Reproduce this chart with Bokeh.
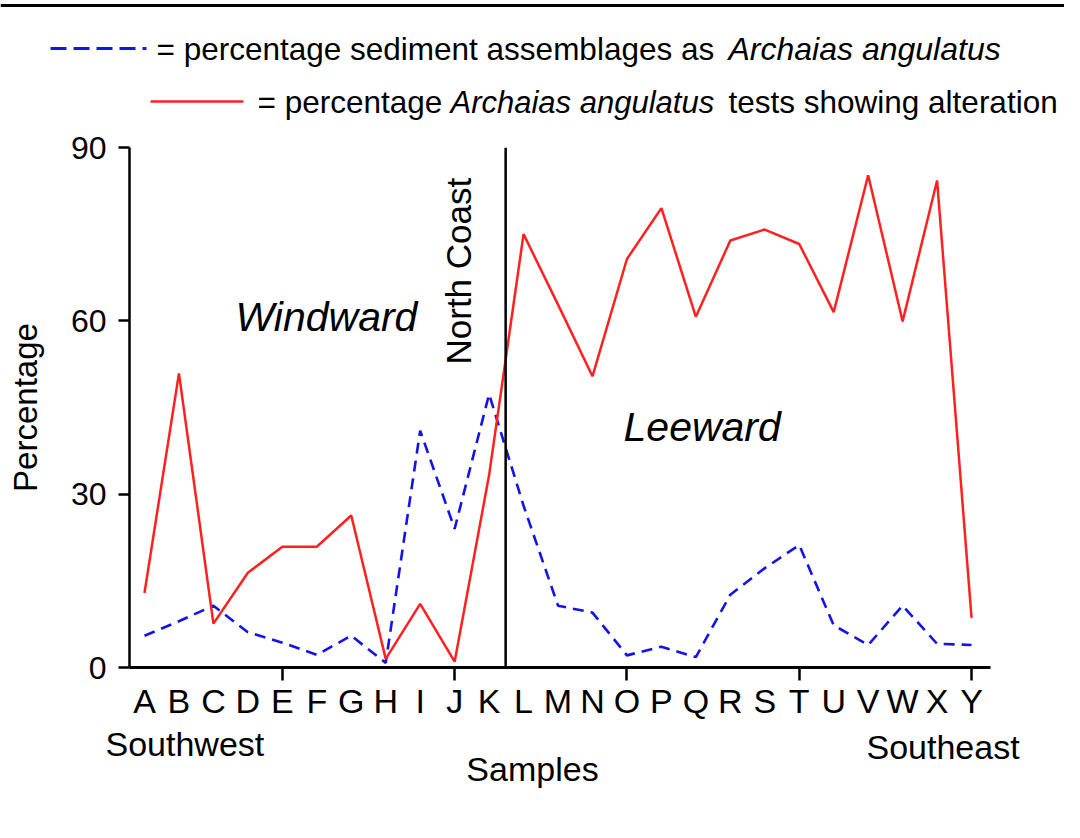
import math
from bokeh.plotting import figure
from bokeh.layouts import column
from bokeh.models import Range1d, LinearAxis, FixedTicker, Label, Span
from bokeh.embed import file_html
from bokeh.resources import INLINE

# ---------------- data ----------------
samples = list("ABCDEFGHIJKLMNOPQRSTUVWXY")
sediment_pct = [5.5, 8.0, 10.7, 6.1, 4.3, 2.2, 5.5, 0.8, 41.0, 24.0, 47.3, 28.0, 10.7,
                9.5, 2.1, 3.6, 1.8, 12.6, 17.2, 21.2, 7.3, 3.9, 10.7, 4.1, 3.9]
altered_pct = [12.9, 50.9, 7.6, 16.4, 20.9, 20.9, 26.3, 1.5, 11.0, 1.0, 33.3, 75.0, 62.8,
               50.4, 70.7, 79.5, 60.7, 73.9, 75.8, 73.3, 61.5, 85.2, 59.9, 84.3, 8.6]
y_ticks = [0, 30, 60, 90]
major_samples = ["E", "J", "O", "T", "Y"]
north_coast_after = "K"   # divider lies between K and L

x_idx = list(range(len(samples)))

FONT = "Liberation Sans"
W = 1064
BLUE = "#1414e6"
RED = "#ff2020"
BASE_FIX = 0.37   # empirical baseline correction (fraction of font size)


def strip(height, y_top):
    f = figure(width=W, height=height, x_range=Range1d(0, W),
               y_range=Range1d(y_top + height, y_top),
               output_backend="svg", toolbar_location=None,
               x_axis_location=None, y_axis_location=None,
               min_border=0, min_border_left=0, min_border_right=0,
               min_border_top=0, min_border_bottom=0, frame_align=False)
    for g in f.grid:
        g.visible = False
    f.outline_line_color = None
    return f


# ---------------- legend strip (page y 0..124) ----------------
LH = 124
leg = strip(LH, 0)

def leg_lab(text, px, py, size, style="normal"):
    leg.add_layout(Label(x=px, y=py - BASE_FIX * size, text=text, text_font=FONT,
                         text_font_size=f"{size}px", text_font_style=style,
                         text_baseline="alphabetic", text_color="black"))

leg.line([0, W], [5, 5], line_color="black", line_width=3)
leg.line([50, 146], [48, 48], line_color=BLUE, line_width=3, line_dash="16 7")
leg.line([150, 243], [101, 101], line_color=RED, line_width=2.5)
leg_lab("= percentage sediment assemblages as", 156, 60, 31.5)
leg_lab("Archaias angulatus", 728, 60, 32, "italic")
leg_lab("= percentage", 257, 113, 31.5)
leg_lab("Archaias angulatus", 450, 113, 31, "italic")
leg_lab("tests showing alteration", 728, 113, 31.5)

# ---------------- main chart (page y 124..722) ----------------
TOP = LH
MH = 722 - TOP
p = figure(width=W, height=MH, x_range=Range1d(-0.435, 24.55), y_range=Range1d(0, 90),
           output_backend="svg", toolbar_location=None,
           x_axis_location=None, y_axis_location=None,
           min_border_left=129, min_border_right=W - 990,
           min_border_top=147 - TOP, min_border_bottom=TOP + MH - 667, frame_align=False)
for g in p.grid:
    g.visible = False
p.outline_line_color = None

def xd(px):
    return (px - 144.0) / 34.4583

def yd(py):
    return (667.0 - py) / 5.77778

yax = LinearAxis(ticker=FixedTicker(ticks=y_ticks), axis_line_width=2.5, axis_line_color="black",
                 major_tick_out=11, major_tick_in=0, major_tick_line_width=2.5,
                 minor_tick_line_color=None,
                 major_label_text_font=FONT, major_label_text_font_size="32px",
                 major_label_text_color="black", major_label_standoff=12,
                 axis_label="Percentage", axis_label_text_font=FONT,
                 axis_label_text_font_size="33px", axis_label_text_font_style="normal",
                 axis_label_text_color="black", axis_label_standoff=24)
p.add_layout(yax, "left")

xt = LinearAxis(ticker=FixedTicker(ticks=[samples.index(s) for s in major_samples]),
                axis_line_width=3, axis_line_color="black",
                major_tick_out=13, major_tick_in=0, major_tick_line_width=2.5,
                minor_tick_line_color=None,
                major_label_overrides={samples.index(s): "" for s in major_samples},
                major_label_text_font_size="1px", major_label_text_color=None,
                major_label_standoff=0)
p.add_layout(xt, "below")

xl = LinearAxis(ticker=FixedTicker(ticks=x_idx),
                major_label_overrides={i: s for i, s in enumerate(samples)},
                axis_line_color=None, major_tick_line_color=None, minor_tick_line_color=None,
                major_tick_out=0, major_tick_in=0, major_label_standoff=1,
                major_label_text_font=FONT, major_label_text_font_size="34px",
                major_label_text_color="black")
p.add_layout(xl, "below")

p.line(x_idx, sediment_pct, line_color=BLUE, line_width=2.6, line_dash="11 7")
p.line(x_idx, altered_pct, line_color=RED, line_width=2.5)

div_x = samples.index(north_coast_after) + 0.48
p.add_layout(Span(location=div_x, dimension="height", line_color="black", line_width=2.5))

def lab(text, px, py, size, style="normal", angle=0.0):
    dx = BASE_FIX * size * math.sin(angle)
    dy = BASE_FIX * size * math.cos(angle)
    p.add_layout(Label(x=xd(px - dx), y=yd(py - dy), text=text, text_font=FONT,
                       text_font_size=f"{size}px", text_font_style=style,
                       text_baseline="alphabetic", angle=angle, text_color="black"))

lab("Windward", 235, 332, 41, "italic")
lab("Leeward", 623, 442, 41, "italic")
lab("North Coast", 471, 364, 35, angle=math.pi / 2)

# ---------------- bottom strip (page y 722..805) ----------------
BT = TOP + MH
BH = 805 - BT
bot = strip(BH, BT)

def bot_lab(text, px, py, size=34, align="left"):
    bot.add_layout(Label(x=px, y=py - BASE_FIX * size, text=text, text_font=FONT,
                         text_font_size=f"{size}px", text_align=align,
                         text_baseline="alphabetic", text_color="black"))

bot_lab("Southwest", 105, 756)
bot_lab("Southeast", 866, 759)
bot_lab("Samples", 532, 781, align="center")

layout = column(leg, p, bot, spacing=0)
open("out.html", "w").write(file_html(layout, INLINE))
